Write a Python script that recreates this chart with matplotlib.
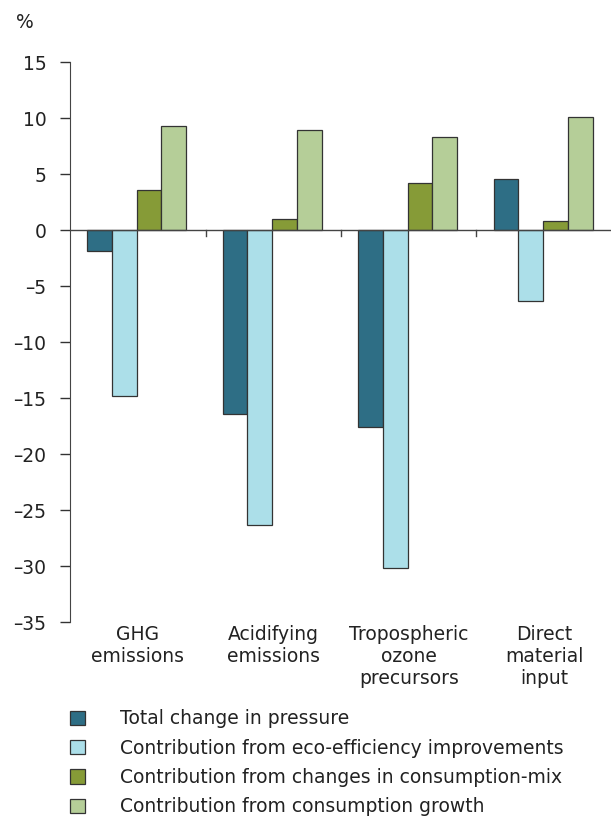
import numpy as np
import matplotlib.pyplot as plt
from matplotlib.patches import Patch

categories = ['GHG\nemissions', 'Acidifying\nemissions', 'Tropospheric\nozone\nprecursors', 'Direct\nmaterial\ninput']
series_names = ['Total change in pressure',
                'Contribution from eco-efficiency improvements',
                'Contribution from changes in consumption-mix',
                'Contribution from consumption growth']
total = [-1.9, -16.4, -17.6, 4.6]
eco_eff = [-14.8, -26.3, -30.2, -6.3]
cons_mix = [3.6, 1.0, 4.2, 0.8]
cons_growth = [9.3, 8.9, 8.3, 10.1]
yticks = [15, 10, 5, 0, -5, -10, -15, -20, -25, -30, -35]

colors = ['#2e6e85', '#acdfe9', '#869b37', '#b5ce98']
values = [total, eco_eff, cons_mix, cons_growth]

fig = plt.figure(figsize=(6.11, 8.16), dpi=100)
ax = fig.add_axes([0.1146, 0.2377, 0.887, 0.6863])

x = np.arange(len(categories))
w = 0.183
for i, (vals, col) in enumerate(zip(values, colors)):
    ax.bar(x + (i - 1.5) * w - 0.008, vals, width=w, color=col, edgecolor='#333333', linewidth=0.9, zorder=2)

ax.set_xlim(-0.5, 3.5)
ax.set_ylim(-35, 15)
ax.set_yticks(yticks)
ax.set_yticklabels([str(t).replace('-', '\u2013') for t in yticks])
ax.tick_params(axis='y', labelsize=13.5, colors='#333333', labelcolor='#222222', length=7, width=1, pad=10)

# zero line with category separators
ax.axhline(0, color='#444444', linewidth=1, zorder=3)
for b in [0.5, 1.5, 2.5]:
    ax.plot([b, b], [0, -0.55], color='#444444', linewidth=1, zorder=3)

ax.set_xticks([])
for xi, lab in zip(x, categories):
    ax.text(xi, -35.3, lab, ha='center', va='top', fontsize=13.5, color='#222222', linespacing=1.2)

for s in ['top', 'right', 'bottom']:
    ax.spines[s].set_visible(False)
ax.spines['left'].set_color('#444444')

fig.text(16 / 611, 1 - 22 / 816, '%', fontsize=13.5, color='#222222', va='center')

handles = [Patch(facecolor=c, edgecolor='#333333', linewidth=0.9) for c in colors]
fig.legend(handles, series_names, loc='upper left', bbox_to_anchor=(61 / 611, 1 - 700 / 816),
           frameon=False, fontsize=13.5, handlelength=0.8, handleheight=0.8,
           handletextpad=1.85, labelspacing=0.55, borderpad=0, labelcolor='#222222')

fig.savefig('out.png', dpi=100)
